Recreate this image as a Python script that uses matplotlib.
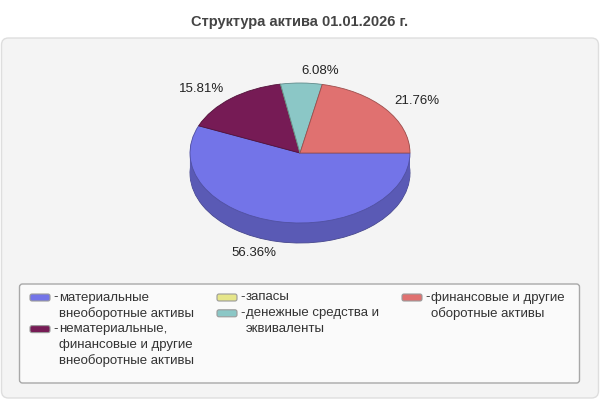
import numpy as np
import matplotlib
matplotlib.use("Agg")
import matplotlib.pyplot as plt
from matplotlib.patches import FancyBboxPatch
from matplotlib.colors import to_rgb

plt.rcParams['font.family'] = ['Liberation Sans', 'DejaVu Sans']

title = "Структура актива 01.01.2026 г."
categories = [
    "материальные\nвнеоборотные активы",
    "нематериальные,\nфинансовые и другие\nвнеоборотные активы",
    "запасы",
    "денежные средства и\nэквиваленты",
    "финансовые и другие\nоборотные активы",
]
values = [56.36, 15.81, 0.0, 6.08, 21.76]
colors = ["#7374e8", "#761b55", "#e6e68a", "#8bc7c6", "#e07170"]
legend_columns = [[0, 1], [2, 3], [4]]

W, H = 600, 400
fig = plt.figure(figsize=(6, 4), dpi=100)
fig.patch.set_facecolor("white")

# background axes in pixel coordinates
bg = fig.add_axes([0, 0, 1, 1], zorder=-5)
bg.set_xlim(0, W)
bg.set_ylim(H, 0)
bg.axis("off")
bg.add_patch(FancyBboxPatch((1.5, 38), 597, 360, boxstyle="round,pad=0,rounding_size=7",
                            fc="#f4f4f4", ec="#dedede", lw=1))
bg.add_patch(FancyBboxPatch((19.5, 284), 560, 99, boxstyle="round,pad=0,rounding_size=3",
                            fc="#fafafa", ec="#a8a8a8", lw=1))
bg.text(W / 2, 22, title, ha="center", va="center", fontsize=10.5,
        fontweight="bold", color="#444444")

# pie geometry (pixels)
cx, cy, rx, ry, depth = 300, 153, 110, 70, 20
span = 1.5
ax = fig.add_axes([(cx - span * rx) / W, 1 - (cy + span * ry) / H,
                   2 * span * rx / W, 2 * span * ry / H], zorder=1)
d = depth / ry


def darker(c, f=0.78):
    r, g, b = to_rgb(c)
    return (r * f, g * f, b * f)


dark = [darker(c) for c in colors]
edge = [darker(c, 0.7) for c in colors]

# side (extrusion)
layers = 30
for k in range(layers, 0, -1):
    off = -d * k / layers
    ax.pie(values, colors=dark, startangle=0, counterclock=False,
           center=(0, off), radius=1,
           wedgeprops=dict(lw=0.6 if k == layers else 0,
                           edgecolor=darker(colors[0], 0.6)))
# top
wedges, _ = ax.pie(values, colors=colors, startangle=0, counterclock=False,
                   wedgeprops=dict(lw=0.6))
for w, e in zip(wedges, edge):
    w.set_edgecolor(e)

ax.set_aspect("auto")
ax.set_xlim(-span, span)
ax.set_ylim(-span, span)

# percentage labels
tot = sum(values)
ang = 0.0
for v in values:
    if v <= 0:
        continue
    a0 = ang
    ang -= 360 * v / tot
    mid = np.deg2rad((a0 + ang) / 2)
    c, s = np.cos(mid), np.sin(mid)
    x = c * (1 + 11 / rx)
    y = s * (1 + 12 / ry)
    if s < 0:
        y -= d
    ha = "left" if c >= 0 else "right"
    ax.text(x, y, f"{v:.2f}%", ha=ha, va="center", fontsize=9.5, color="#222222")

# legend (drawn manually so that swatches sit on the first text line)
col_x = [30, 217, 402]
line0, line_h = 297.5, 15.8
fs = 9.5
for cx0, items in zip(col_x, legend_columns):
    row = 0
    for i in items:
        y = line0 + row * line_h
        bg.add_patch(FancyBboxPatch((cx0, y - 3.5), 20, 7,
                                    boxstyle="round,pad=0,rounding_size=2",
                                    fc=colors[i], ec="#9a9a9a", lw=0.8))
        bg.text(cx0 + 23, y, "-", ha="left", va="center", fontsize=fs, color="#333333")
        for ln in categories[i].split("\n"):
            bg.text(cx0 + 29, line0 + row * line_h, ln, ha="left", va="center",
                    fontsize=fs, color="#333333")
            row += 1

fig.savefig("out.png", dpi=100)
